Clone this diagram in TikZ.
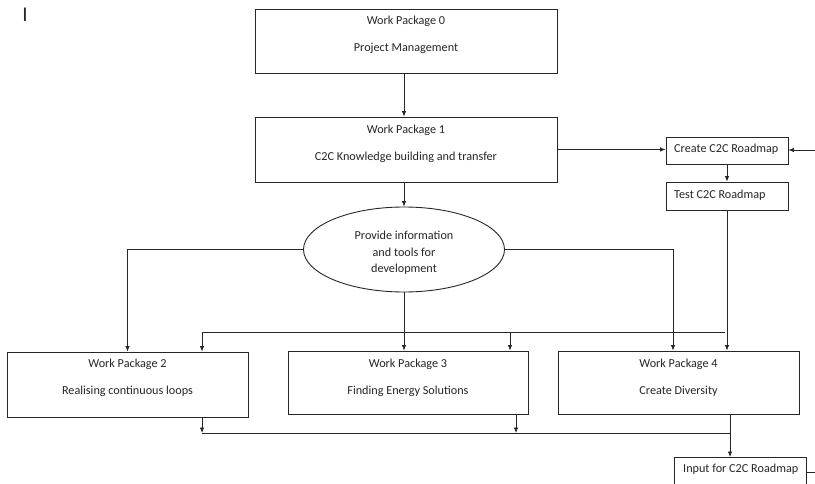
\documentclass[tikz,border=0pt]{standalone}
\usepackage{fontspec}
\setmainfont{Carlito}
\usetikzlibrary{arrows.meta,shapes.geometric,calc}
\begin{document}
\begin{tikzpicture}[x=1pt,y=-1pt,
  line/.style={draw=black!85, line width=0.8pt},
  arr/.style={line, -{Latex[length=5.5pt,width=4.5pt]}},
  box/.style={draw=black!85, line width=0.9pt, inner sep=0pt},
  txt/.style={font=\fontsize{12.2}{14}\selectfont, align=center, inner sep=0pt, text=black!85}]
\useasboundingbox (0,0) rectangle (815,484);
\fill[white] (0,0) rectangle (815,484);
\clip (0,0) rectangle (815,484);

% cursor-like letter
\node[font=\fontsize{21}{21}\selectfont, inner sep=0pt, text=black!85] (cur) at (25,15) {I};

% work packages
\node[box, minimum width=302pt, minimum height=64pt] (wp0) at (406,41) {};
\node[txt] (wp0t) at (406,34.5) {Work Package 0\\[13pt]Project Management};

\node[box, minimum width=302pt, minimum height=65pt] (wp1) at (406,149.5) {};
\node[txt] (wp1t) at (406,143.5) {Work Package 1\\[13pt]C2C Knowledge building and transfer};

\node[box, minimum width=122pt, minimum height=27pt] (create) at (727,150.5) {};
\node[txt, anchor=west] (createt) at (674,149) {Create C2C Roadmap};
\node[box, minimum width=122pt, minimum height=28pt] (test) at (727,196) {};
\node[txt, anchor=west] (testt) at (674,195) {Test C2C Roadmap};

\node[box, ellipse, minimum width=201pt, minimum height=85pt] (ell) at (404,249.5) {};
\node[txt, font=\fontsize{12.2}{16.5}\selectfont] (ellt) at (404,253) {Provide information\\and tools for\\development};

\node[box, minimum width=241pt, minimum height=65pt] (wp2) at (127.5,384.5) {};
\node[txt] (wp2t) at (127.5,378) {Work Package 2\\[13pt]Realising continuous loops};

\node[box, minimum width=240pt, minimum height=63pt] (wp3) at (408,382.5) {};
\node[txt] (wp3t) at (408,377.5) {Work Package 3\\[13pt]Finding Energy Solutions};

\node[box, minimum width=241pt, minimum height=63pt] (wp4) at (678.5,382.5) {};
\node[txt] (wp4t) at (678.5,377.5) {Work Package 4\\[13pt]Create Diversity};

\node[box, anchor=north, minimum width=132pt, minimum height=40pt] (inp) at (740,457) {};
\node[txt, anchor=west] (inpt) at (683,469) {Input for C2C Roadmap};

% helper coordinates
\coordinate (rin) at (815,150);
\coordinate (rout) at (815,472);
\coordinate (bus) at (725,332);
\coordinate (busL) at (202,332);
\coordinate (bus3) at (510,332);
\coordinate (o2) at (202,433);
\coordinate (o3) at (516,433);
\coordinate (o4) at (730,433);

% connectors
\draw[arr] (wp0.south -| ell.north) -- (wp1.north -| ell.north);
\draw[arr] (wp1.east) -- (wp1.east -| create.west);
\draw[arr] (rin) -- (rin -| create.east);
\draw[arr] (create.south) -- (test.north);
\draw[arr] (wp1.south -| ell.north) -- (ell.north);
\draw[arr] (ell.west) -| (wp2.north);
\draw[arr] (ell.east) -| ([xshift=-5.5pt]wp4.north);
\draw[arr] (ell.south) -- (ell.south |- wp3.north);
\draw[arr] (test.south) -- (test.south |- wp4.north);
\draw[line] (bus) -- (busL);
\draw[arr] (busL) -- (busL |- wp2.north);
\draw[arr] (bus3) -- (bus3 |- wp3.north);
\draw[arr] (o2 |- wp2.south) -- (o2);
\draw[arr] (o3 |- wp3.south) -- (o3);
\draw[line] (o2) -- (o4);
\draw[arr] (o4 |- wp4.south) -- (o4 |- inp.north);
\draw[line] (inp.east |- rout) -- (rout);
\end{tikzpicture}
\end{document}
